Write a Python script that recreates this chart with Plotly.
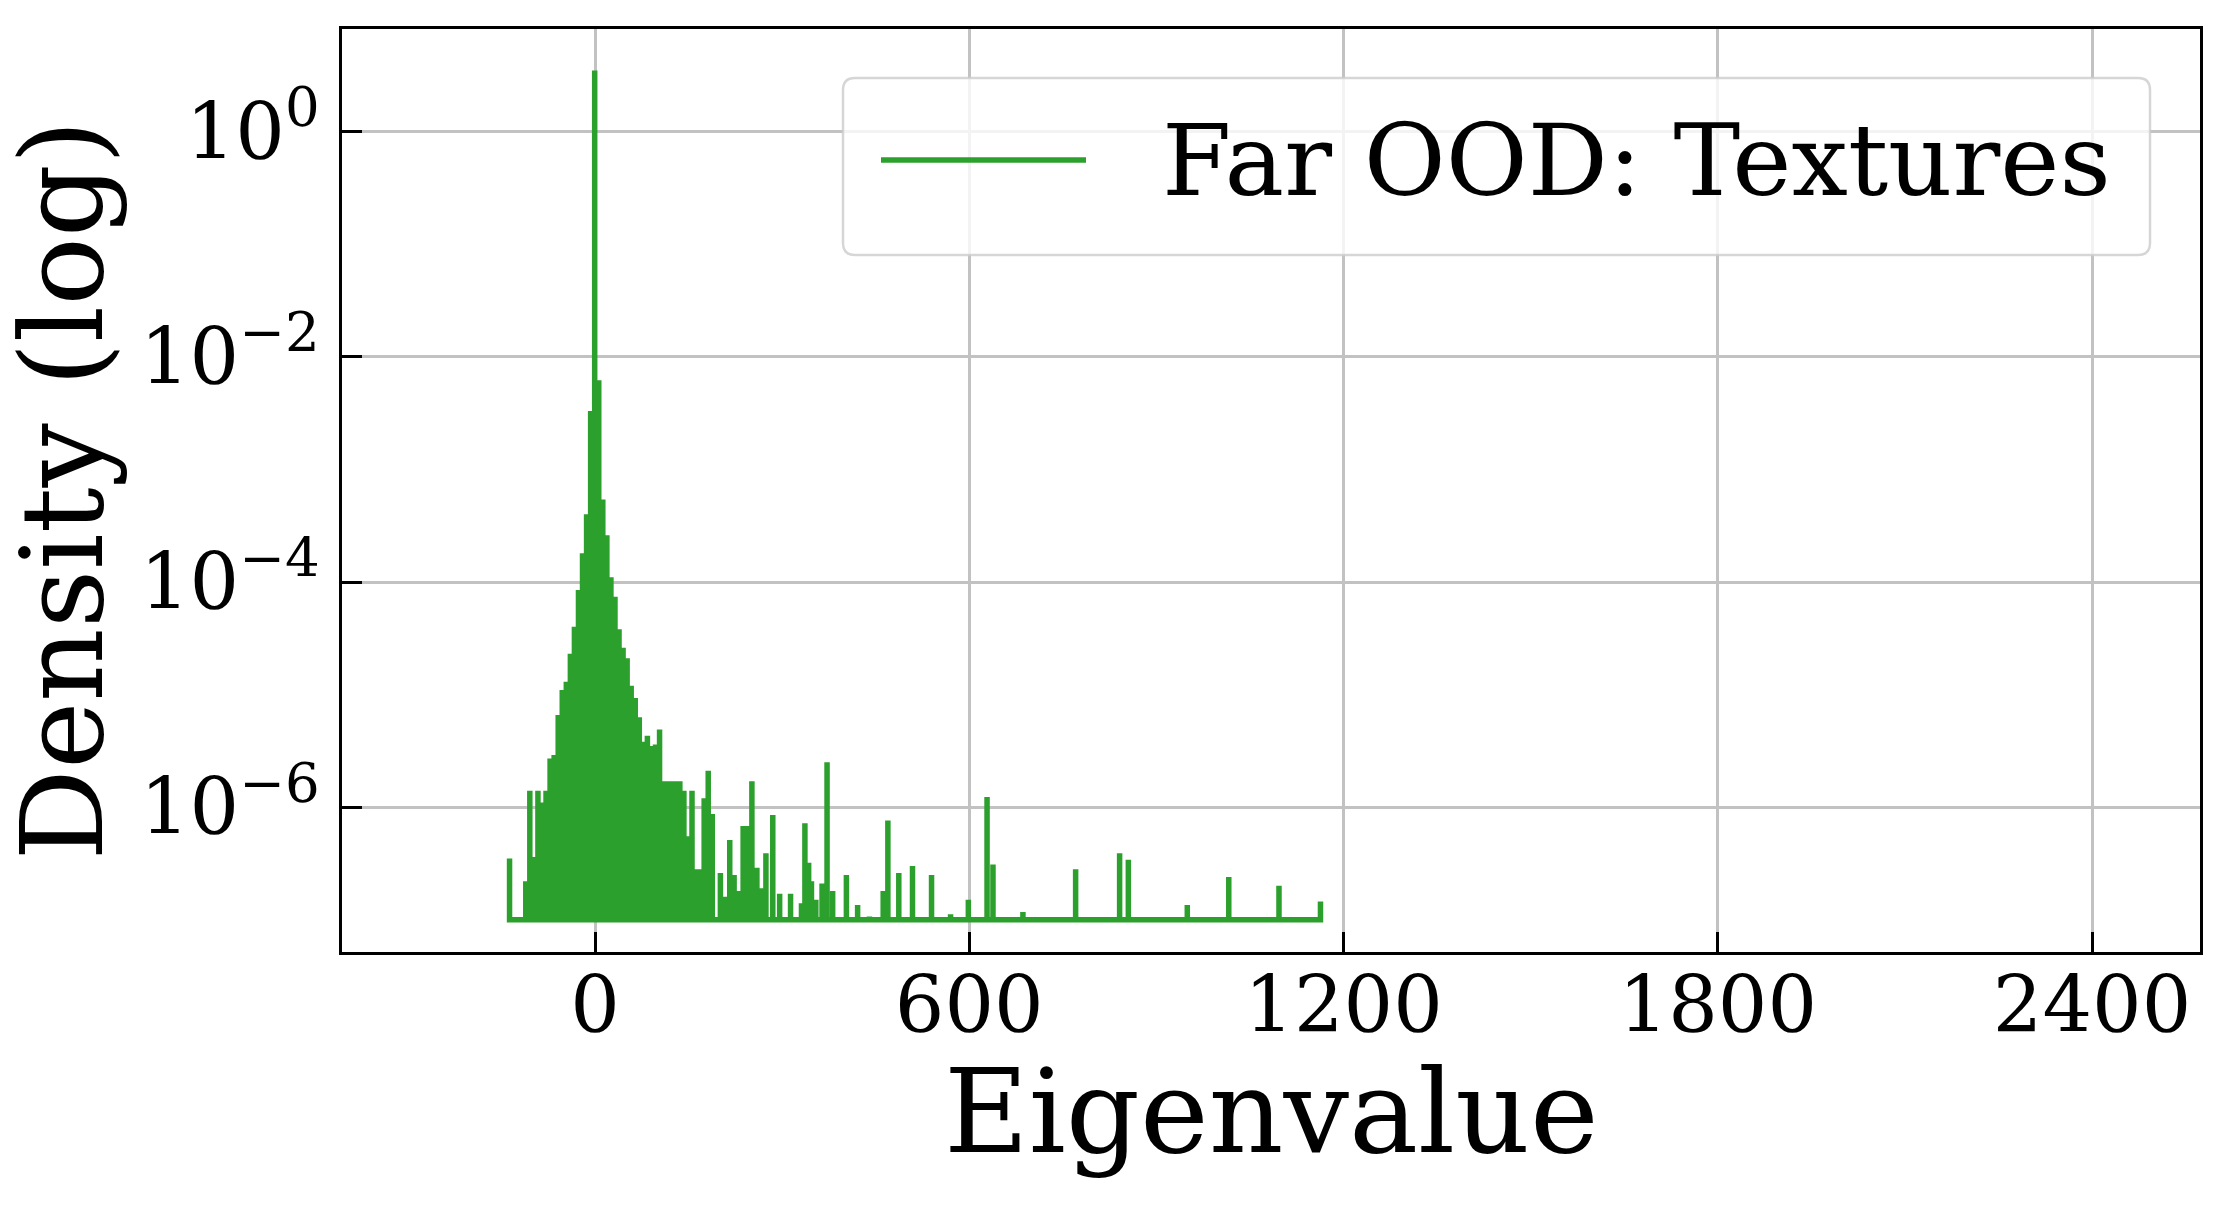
import plotly.graph_objects as go

# ---- data (eigenvalue spectral density, log scale) ----
FLOOR = 1e-7  # density offset level drawn as the baseline

eigenvalues = [
    -137.0, -111.0, -104.5, -98.0, -91.5, -85.0, -78.5, -72.0, -65.5, -59.0,
    -52.5, -46.0, -39.5, -33.0, -26.5, -20.0, -13.5, -7.0, -0.5, 6.0,
    12.5, 19.0, 25.5, 32.0, 38.5, 45.0, 51.5, 58.0, 64.5, 71.0,
    77.5, 84.0, 90.5, 97.0, 103.5, 110.0, 116.5, 123.0, 129.5, 136.0,
    142.5, 149.0, 155.5, 162.0, 168.5, 175.0, 181.5, 188.0,
    201.0, 208.0, 216.0, 223.0, 230.5, 237.5, 243.0, 251.5, 259.5, 266.5,
    274.0, 285.0, 296.0, 313.5, 331.0, 336.5, 342.5, 347.0, 354.0, 364.0,
    372.0, 381.0, 403.0, 421.0, 440.0, 462.0, 469.5, 487.0, 509.0, 539.5,
    570.0, 598.5, 628.5, 638.0, 686.0, 770.5, 841.0, 855.0, 949.5, 1016.0,
    1096.5, 1163.0,
]

density = [
    3.5e-7, 2.2e-7, 1.4e-6, 3.6e-7, 1.4e-6, 1.1e-6, 1.4e-6, 2.7e-6, 2.9e-6, 6.6e-6,
    1.1e-5, 1.3e-5, 2.3e-5, 4.0e-5, 8.5e-5, 1.8e-4, 4.0e-4, 3.3e-3, 3.5, 6.2e-3,
    5.4e-4, 2.6e-4, 1.1e-4, 7.4e-5, 3.8e-5, 2.6e-5, 2.1e-5, 1.2e-5, 9.3e-6, 6.3e-6,
    3.8e-6, 4.3e-6, 3.5e-6, 3.6e-6, 4.9e-6, 1.7e-6, 1.7e-6, 1.7e-6, 1.7e-6, 1.7e-6,
    1.4e-6, 5.5e-7, 1.4e-6, 2.8e-7, 2.8e-7, 1.2e-6, 2.1e-6, 8.7e-7,
    2.6e-7, 1.6e-7, 5.1e-7, 2.5e-7, 1.8e-7, 6.8e-7, 6.8e-7, 1.7e-6, 2.9e-7, 1.9e-7,
    3.9e-7, 8.5e-7, 1.7e-7, 1.7e-7, 1.4e-7, 7.2e-7, 3.2e-7, 2.2e-7, 1.5e-7, 2.1e-7,
    2.5e-6, 1.8e-7, 2.5e-7, 1.35e-7, 1.07e-7, 1.8e-7, 7.6e-7, 2.6e-7, 3.0e-7, 2.5e-7,
    1.12e-7, 1.5e-7, 1.23e-6, 3.1e-7, 1.17e-7, 2.8e-7, 3.9e-7, 3.4e-7, 1.35e-7, 2.4e-7,
    2.0e-7, 1.45e-7,
]

series_name = "Far OOD: Textures"
x_title = "Eigenvalue"
y_title = "Density (log)"
x_ticks = [0, 600, 1200, 1800, 2400]
y_ticks = [1, 1e-2, 1e-4, 1e-6]
y_ticktext = ["10<sup>0</sup>", "10<sup>\u22122</sup>", "10<sup>\u22124</sup>", "10<sup>\u22126</sup>"]

GREEN = "#2ca02c"
FONT = "DejaVu Serif"

# build the spike line (each eigenvalue rises from the baseline and returns)
xs, ys = [], []
for x, d in zip(eigenvalues, density):
    xs += [x, x, x]
    ys += [FLOOR, d, FLOOR]

fig = go.Figure()
fig.add_trace(go.Scatter(
    x=xs, y=ys, mode="lines", name=series_name,
    line=dict(color=GREEN, width=5.5, simplify=False),
    showlegend=False, hoverinfo="skip",
))

# ---- layout ----
W, H = 2232, 1210
L, R, T, B = 342, 32, 29, 258
pw, ph = W - L - R, H - T - B

def px_x(p):
    return (p - L) / pw

def px_y(p):
    return (H - B - p) / ph

axis_common = dict(
    showline=True, linecolor="black", linewidth=2.5, mirror=True,
    ticks="inside", ticklen=20, tickwidth=2.5, tickcolor="black",
    showgrid=True, gridcolor="#c2c2c2", gridwidth=3,
    zeroline=False, automargin=False,
    tickfont=dict(family=FONT, size=78, color="black"),
)

fig.update_xaxes(
    range=[-405.6, 2573], tickvals=x_ticks, ticktext=[str(v) for v in x_ticks],
    ticklabelstandoff=-16,
    **axis_common,
)
fig.update_yaxes(
    type="log", range=[-7.287, 0.913], tickvals=y_ticks, ticktext=y_ticktext,
    ticklabelstandoff=4,
    **axis_common,
)

# axis titles as annotations for exact placement
fig.add_annotation(text=x_title, xref="paper", yref="paper",
                   x=0.5, y=px_y(1042), xanchor="center", yanchor="top",
                   showarrow=False, font=dict(family=FONT, size=116, color="black"))
fig.add_annotation(text=y_title, xref="paper", yref="paper", textangle=-90,
                   x=px_x(62), y=0.5, xanchor="center", yanchor="middle",
                   showarrow=False, font=dict(family=FONT, size=114, color="black"))

# ---- legend drawn manually (matplotlib-style rounded frame) ----
bx0, bx1 = px_x(843), px_x(2150)
by0, by1 = px_y(255), px_y(78)
rx = 12 / pw
ry = 12 / ph
path = (
    f"M {bx0+rx},{by1} L {bx1-rx},{by1} Q {bx1},{by1} {bx1},{by1-ry} "
    f"L {bx1},{by0+ry} Q {bx1},{by0} {bx1-rx},{by0} "
    f"L {bx0+rx},{by0} Q {bx0},{by0} {bx0},{by0+ry} "
    f"L {bx0},{by1-ry} Q {bx0},{by1} {bx0+rx},{by1} Z"
)
fig.add_shape(type="path", path=path, xref="paper", yref="paper",
              fillcolor="rgba(255,255,255,0.8)",
              line=dict(color="rgba(204,204,204,0.8)", width=2.5), layer="above")
fig.add_shape(type="line", xref="paper", yref="paper",
              x0=px_x(881), x1=px_x(1086), y0=px_y(160), y1=px_y(160),
              line=dict(color=GREEN, width=5.5), layer="above")
fig.add_annotation(text=series_name, xref="paper", yref="paper",
                   x=px_x(1160), y=px_y(160), xanchor="left", yanchor="middle",
                   showarrow=False, font=dict(family=FONT, size=100, color="black"))

fig.update_layout(
    width=W, height=H,
    margin=dict(l=L, r=R, t=T, b=B, pad=0, autoexpand=False),
    paper_bgcolor="white", plot_bgcolor="white",
    showlegend=False,
)

fig.write_html("out.html")
